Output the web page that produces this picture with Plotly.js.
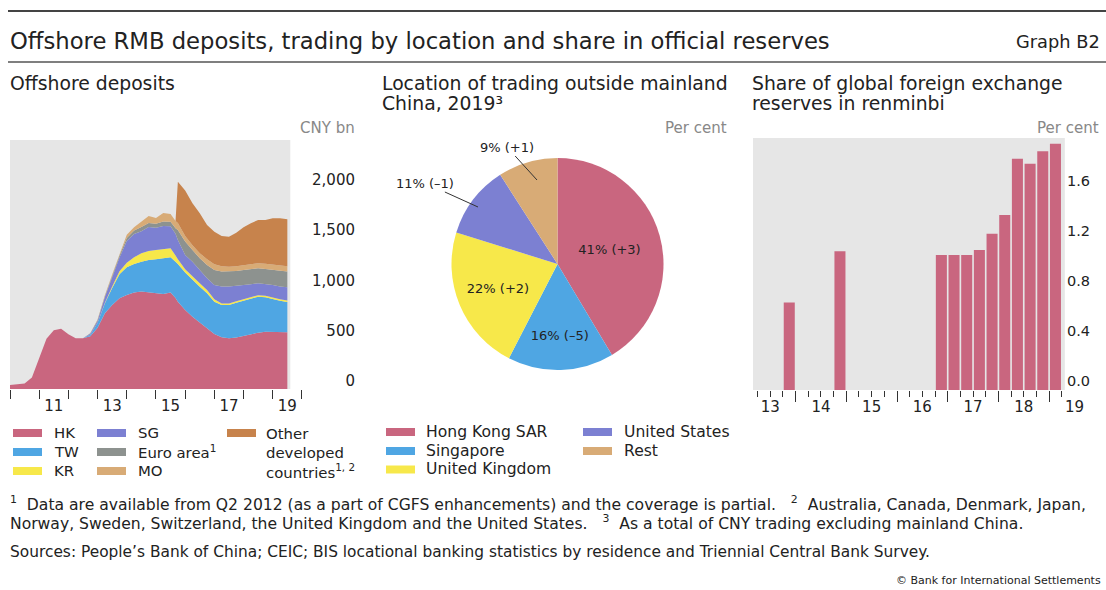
<!DOCTYPE html>
<html><head><meta charset="utf-8">
<script src="https://cdn.plot.ly/plotly-3.0.1.min.js"></script>
<style>html,body{margin:0;padding:0;background:#fff}#chart{width:1106px;height:590px}</style>
</head><body><div id="chart"></div>
<script>
// ---------- Left panel: offshore deposits, CNY bn (stacked by location) ----------
const depDates = [2010.00,2010.25,2010.50,2010.75,2011.00,2011.25,2011.50,2011.75,2012.00,2012.25,2012.50,2012.75,
  2013.00,2013.25,2013.50,2013.75,2014.00,2014.25,2014.50,2014.75,2015.00,2015.25,2015.50,2015.67,2015.75,
  2016.00,2016.25,2016.50,2016.75,2017.00,2017.25,2017.50,2017.75,2018.00,2018.25,2018.50,2018.75,2019.00,2019.25,2019.50];
const depHK = [40,48,55,115,300,500,585,600,545,505,505,525,
  610,752,835,901,935,958,968,961,951,945,958,905,868,
  785,719,660,603,547,514,504,511,527,547,560,570,570,570,564];
const depTW = [0,0,0,0,0,0,0,0,0,0,0,15,
  45,100,170,240,275,285,298,321,338,354,351,360,375,
  372,365,357,348,321,321,331,347,351,354,358,341,322,308,301];
const depKR = [0,0,0,0,0,0,0,0,0,0,0,0,
  0,5,15,30,46,66,83,90,93,90,89,62,46,
  33,33,34,34,24,15,15,15,15,15,15,15,15,15,15];
const depSG = [0,0,0,0,0,0,0,0,0,0,0,8,
  20,58,90,135,214,231,220,238,220,230,220,215,191,
  142,149,132,115,142,168,168,151,141,125,118,118,127,125,131];
const depEuro = [0,0,0,0,0,0,0,0,0,0,0,5,
  10,10,15,20,30,35,40,40,40,45,45,55,100,
  133,116,116,133,149,149,149,149,149,149,149,149,149,159,156];
const depMO = [0,0,0,0,0,0,0,0,0,0,0,2,
  5,6,12,13,34,32,51,70,58,86,77,73,70,
  55,48,51,57,57,53,48,47,47,50,50,52,52,53,53];
const depOther = [0,0,0,0,0,0,0,0,0,0,0,0,
  0,0,0,0,0,0,0,0,0,0,0,0,411,
  452,416,396,340,324,301,299,334,377,407,430,435,462,467,467];
const depNames = ['HK','TW','KR','SG','Euro area<sup>1</sup>','MO','Other<br>developed<br>countries<sup>1, 2</sup>'];
const depTickYears = [2010,2011,2012,2013,2014,2015,2016,2017,2018,2019,2020];
const depLabelYears = [2011,2013,2015,2017,2019];
const depYTicks = [0,500,1000,1500,2000];

// ---------- Middle panel: location of trading outside mainland China, 2019 ----------
const pieLabels = ['Hong Kong SAR','Singapore','United Kingdom','United States','Rest'];
const pieShares = [41,16,22,11,9];
const pieChanges = ['+3','–5','+2','–1','+1'];

// ---------- Right panel: share of global FX reserves in renminbi, per cent ----------
const resQuarters = ['2013-Q4','2014-Q4','2016-Q4','2017-Q1','2017-Q2','2017-Q3','2017-Q4','2018-Q1','2018-Q2','2018-Q3','2018-Q4','2019-Q1'];
const resShare = [0.70,1.11,1.08,1.08,1.08,1.12,1.25,1.40,1.85,1.81,1.91,1.97];
const resYears = [2013,2014,2015,2016,2017,2018,2019];
const resYTicks = [0,0.4,0.8,1.2,1.6];

// ---------- colours ----------
const C = {hk:'#c9667f', tw:'#4fa6e3', kr:'#f7e84a', sg:'#7c80d2', euro:'#8d928f', mo:'#d8ab76', other:'#c7834c'};
const depColours = [C.hk,C.tw,C.kr,C.sg,C.euro,C.mo,C.other];
const pieColours = [C.hk,C.tw,C.kr,C.sg,C.mo];

const W = 1106, H = 590;
const px = v => v / W;
const py = v => 1 - v / H;
const FONT = '"DejaVu Sans", Verdana, sans-serif';
const TXT = '#222';

const depSeries = [depHK, depTW, depKR, depSG, depEuro, depMO, depOther];
const traces = depSeries.map((y, i) => ({type:'scatter', mode:'lines', x:depDates, y:y, name:depNames[i],
  stackgroup:'dep', line:{width:0, color:depColours[i]}, fillcolor:depColours[i], showlegend:false,
  hoverinfo:'skip', xaxis:'x', yaxis:'y'}));
traces.push(
  {type:'pie', labels:pieLabels, values:pieShares,
   text:pieShares.map((v,i)=>v+'% ('+pieChanges[i]+')'), textinfo:'text',
   textposition:['inside','inside','inside','none','none'], insidetextorientation:'horizontal',
   insidetextfont:{size:13, color:TXT, family:FONT},
   sort:false, direction:'clockwise', rotation:0,
   marker:{colors:pieColours, line:{width:0}},
   domain:{x:[px(451.5),px(663.5)], y:[py(370),py(158)]}, showlegend:false, hoverinfo:'skip'},
  {type:'bar', x:resQuarters.map(q=>{const [yr,qq]=q.split('-Q');return +yr+(+qq-0.5)/4;}), y:resShare,
   marker:{color:C.hk, line:{width:0}}, xaxis:'x3', yaxis:'y2', showlegend:false, hoverinfo:'skip'},
  // empty traces so the label-only overlay axes are built
  {type:'scatter', x:[], y:[], xaxis:'x2', yaxis:'y', showlegend:false, hoverinfo:'skip'},
  {type:'scatter', x:[], y:[], xaxis:'x4', yaxis:'y2', showlegend:false, hoverinfo:'skip'}
);

const axisBase = {showgrid:false, zeroline:false, showline:false, fixedrange:true};
const leftRange = [2010, 2021.92];
const rightRange = [2013.16, 2019.846];

const f = (size, color) => ({size:size, color:color||TXT, family:FONT});
const ann = (text, x, y, opts={}) => Object.assign({text:text, x:px(x), y:py(y), xref:'paper', yref:'paper',
  showarrow:false, xanchor:'left', yanchor:'middle', align:'left', font:f(18.8)}, opts);

const annotations = [
  ann('Offshore RMB deposits, trading by location and share in official reserves', 8, 41, {font:f(22.7)}),
  ann('Graph B2', 1102, 42, {xanchor:'right', font:f(17.8)}),
  ann('Offshore deposits', 8, 84),
  ann('Location of trading outside mainland', 380, 84),
  ann('China, 2019³', 380, 103.5),
  ann('Share of global foreign exchange', 750, 84),
  ann('reserves in renminbi', 750, 103.5),
  ann('CNY bn', 357, 128, {xanchor:'right', font:f(15,'#888')}),
  ann('Per cent', 729, 128, {xanchor:'right', font:f(15,'#888')}),
  ann('Per cent', 1101, 128, {xanchor:'right', font:f(15,'#888')}),
  // outside pie labels with leader lines
  {text:pieShares[3]+'% ('+pieChanges[3]+')', x:px(478), y:py(207), xref:'paper', yref:'paper', ax:-53, ay:-24,
   showarrow:true, arrowhead:0, arrowwidth:1, arrowcolor:'#333', font:f(13)},
  {text:pieShares[4]+'% ('+pieChanges[4]+')', x:px(537), y:py(180), xref:'paper', yref:'paper', ax:-30, ay:-33,
   showarrow:true, arrowhead:0, arrowwidth:1, arrowcolor:'#333', font:f(13)},
  // footnotes
  ann('<sup>1</sup>  Data are available from Q2 2012 (as a part of CGFS enhancements) and the coverage is partial.   <sup>2</sup>  Australia, Canada, Denmark, Japan,', 8, 503, {font:f(15.6)}),
  ann('Norway, Sweden, Switzerland, the United Kingdom and the United States.   <sup>3</sup>  As a total of CNY trading excluding mainland China.', 8, 522, {font:f(15.6)}),
  ann('Sources: People’s Bank of China; CEIC; BIS locational banking statistics by residence and Triennial Central Bank Survey.', 8, 552, {font:f(15.4)}),
  ann('© Bank for International Settlements', 1103, 580, {xanchor:'right', font:f(11)})
];

const shapes = [
  {type:'line', xref:'paper', yref:'paper', x0:px(8), x1:1, y0:py(11), y1:py(11), line:{color:'#444', width:2}},
  {type:'line', xref:'paper', yref:'paper', x0:px(8), x1:1, y0:py(62), y1:py(62), line:{color:'#555', width:1.5}},
  {type:'rect', xref:'x', yref:'y domain', x0:2010, x1:2019.6, y0:0, y1:1, fillcolor:'#e6e6e6', line:{width:0}, layer:'below'},
  {type:'rect', xref:'x3', yref:'y2 domain', x0:2013.16, x1:2019.31, y0:0, y1:1, fillcolor:'#e6e6e6', line:{width:0}, layer:'below'}
];

// legends drawn as swatch + text, column by column as in the reference
function addLegend(cols, colX, textX, rowY, names, colours, size) {
  cols.forEach((col, ci) => col.forEach((idx, ri) => {
    shapes.push({type:'rect', xref:'paper', yref:'paper', x0:px(colX[ci]), x1:px(colX[ci]+29),
      y0:py(rowY[ri]+4), y1:py(rowY[ri]-4), fillcolor:colours[idx], line:{width:0}});
    const multi = names[idx].indexOf('<br>') >= 0;
    annotations.push(ann(names[idx], textX[ci], multi ? rowY[ri]-10 : rowY[ri],
      {font:f(size), yanchor: multi ? 'top' : 'middle'}));
  }));
}
addLegend([[0,1,2],[3,4,5],[6]], [13,97,227], [52,136,264], [433,452,471], depNames, depColours, 14.9);
addLegend([[0,1,2],[3,4]], [386,583], [424,622], [432,451,469.5], pieLabels, pieColours, 15.6);

const layout = {
  width:W, height:H, margin:{l:0,r:0,t:0,b:0}, paper_bgcolor:'#fff', plot_bgcolor:'rgba(0,0,0,0)',
  font:{family:FONT, color:TXT}, hovermode:false, showlegend:false,
  xaxis:Object.assign({}, axisBase, {domain:[px(10),px(358)], range:leftRange, anchor:'y',
    tickmode:'array', tickvals:depTickYears, ticks:'outside', ticklen:9,
    tickcolor:'#333', tickwidth:1, showticklabels:false}),
  xaxis2:Object.assign({}, axisBase, {overlaying:'x', anchor:'y', range:leftRange,
    tickmode:'array', tickvals:depLabelYears.map(y=>y+0.5), ticktext:depLabelYears.map(y=>String(y).slice(2)),
    ticks:'', ticklabelstandoff:6, tickfont:f(15)}),
  yaxis:Object.assign({}, axisBase, {domain:[py(389),py(140)], range:[0,2475], anchor:'x', side:'right',
    ticklabelposition:'inside', ticklabeloverflow:'allow', tickmode:'array', tickvals:depYTicks, tickformat:',', ticks:'',
    ticklabelshift:-8, tickfont:f(15)}),
  xaxis3:Object.assign({}, axisBase, {domain:[px(753),px(1092)], range:rightRange, anchor:'y2',
    tickmode:'array', tickvals:resYears.slice(1), ticks:'outside', ticklen:11, tickcolor:'#333', tickwidth:1,
    showticklabels:false,
    minor:{tickmode:'array', tickvals:resYears.flatMap(y=>[y+0.25,y+0.5,y+0.75]).filter(v=>v<2019.3), ticks:'outside', ticklen:6, tickcolor:'#333', tickwidth:1}}),
  xaxis4:Object.assign({}, axisBase, {overlaying:'x3', anchor:'y2', range:rightRange,
    tickmode:'array', tickvals:resYears.map(y=>y+0.5), ticktext:resYears.map(y=>String(y).slice(2)),
    ticks:'', ticklabelstandoff:6, tickfont:f(15)}),
  yaxis2:Object.assign({}, axisBase, {domain:[py(390),py(138)], range:[0,2.016], anchor:'free', position:px(1066), side:'right',
    ticklabeloverflow:'allow', tickmode:'array', tickvals:resYTicks, tickformat:'.1f', ticks:'',
    ticklabelshift:-9, tickfont:f(14.5)}),
  bargap:0.13,
  annotations:annotations, shapes:shapes
};
Plotly.newPlot('chart', traces, layout, {displayModeBar:false, staticPlot:true});
</script>
</body></html>
